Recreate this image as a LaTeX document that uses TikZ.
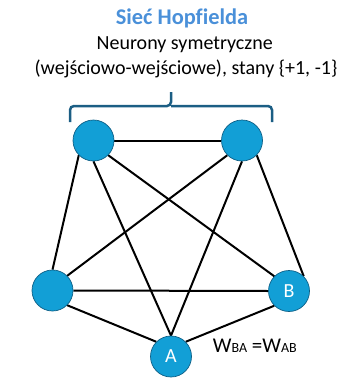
\documentclass[tikz,border=0pt]{standalone}
\usepackage{fontspec}
\setmainfont{Carlito}[Ligatures=NoCommon]
\usetikzlibrary{backgrounds}
\definecolor{nodefill}{HTML}{129FD6}
\definecolor{nodeedge}{HTML}{0D5F86}
\definecolor{titleblue}{HTML}{4A90D9}
\definecolor{bracecol}{HTML}{1B5E84}
\begin{document}
\begin{tikzpicture}[x=1pt,y=-1pt,
  neuron/.style={circle,fill=nodefill,draw=nodeedge,line width=0.7pt,minimum size=41pt,inner sep=0pt,text=white,font=\fontsize{20}{24}\selectfont},
  link/.style={line width=2pt,black},
  bracestyle/.style={bracecol,line width=2.5pt,rounded corners=4pt}]
\useasboundingbox (0,0) rectangle (351,391);
\node[font=\fontsize{22.4}{27}\selectfont\bfseries,text=titleblue,anchor=base] (title) at (182,24.5) {Sieć Hopfielda};
\node[font=\fontsize{20}{24}\selectfont,anchor=base] (line1) at (184.7,49.5) {Neurony symetryczne};
\node[font=\fontsize{20}{24}\selectfont,anchor=base] (line2) at (186,74) {(wejściowo-wejściowe), stany \{+1, -1\}};
\coordinate (bl) at (70,122);
\coordinate (br) at (272,122);
\coordinate (btip) at (171,92);
\draw[bracestyle] (bl) -- (70,106) -- (171,106) -- (btip);
\draw[bracestyle] (br) -- (272,106) -- (171,106);
\node[neuron] (tl) at (93.5,140.5) {};
\node[neuron] (tr) at (242,140.5) {};
\node[neuron] (l) at (52.5,290.5) {};
\node[neuron] (b) at (289,291) {B};
\node[neuron] (a) at (171,356.5) {A};
\begin{scope}[on background layer]
\draw[link] (tl.east) -- (tr.west);
\draw[link] (tl.south west) -- (l.north);
\draw[link] (tl.south) -- (a.north);
\draw[link] (tl.south east) -- (b.north west);
\draw[link] (tr.south west) -- (l.north east);
\draw[link] (tr.south) -- (a.north);
\draw[link] (tr.south east) -- (b.north east);
\draw[link] (l.east) -- (b.west);
\draw[link] (l.south east) -- (a.north west);
\draw[link] (a.north east) -- (b.south west);
\end{scope}
\node[anchor=base west,inner sep=0pt,font=\fontsize{21}{25}\selectfont] (w) at (212.7,352) {W{\fontsize{14}{17}\selectfont BA} =W{\fontsize{14}{17}\selectfont AB}};
\end{tikzpicture}
\end{document}
